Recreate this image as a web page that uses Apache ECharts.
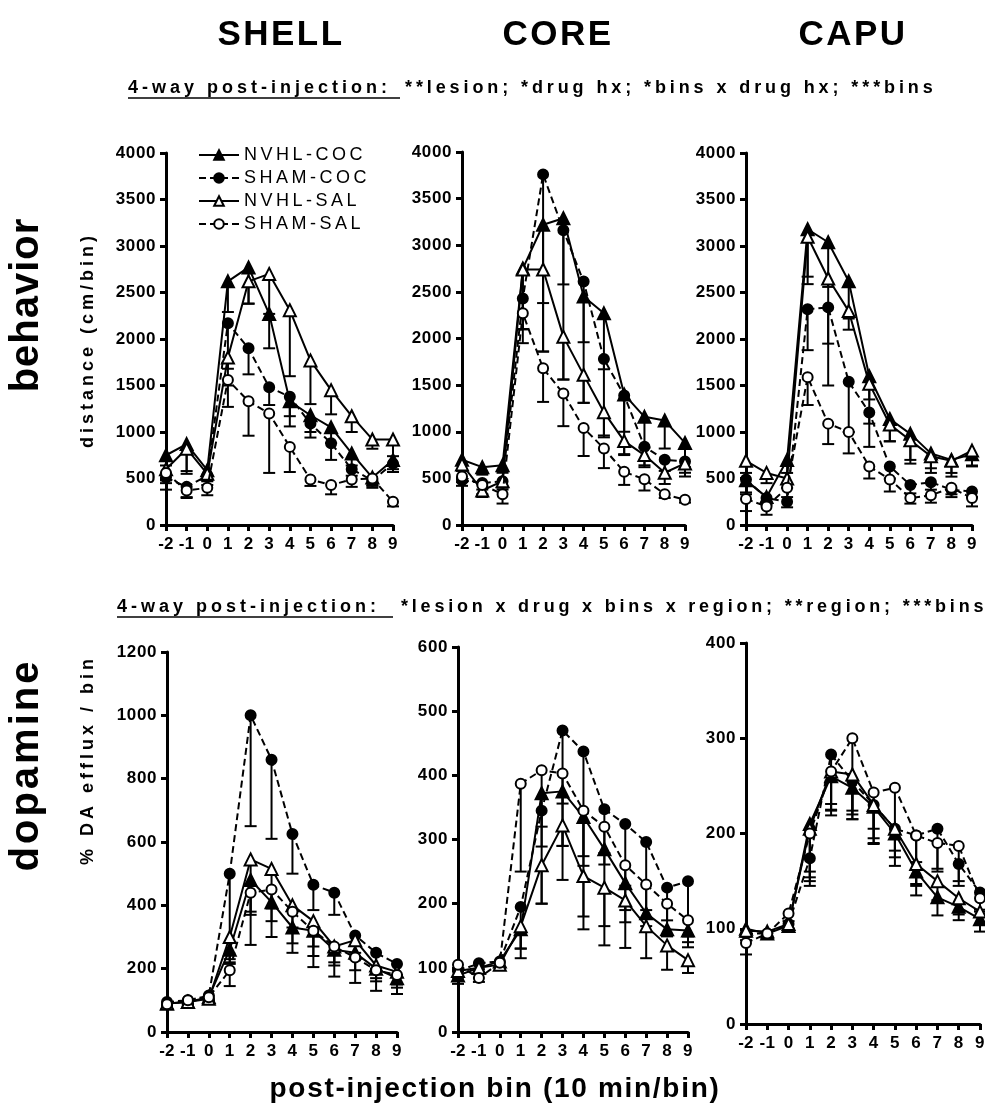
<!DOCTYPE html>
<html><head><meta charset="utf-8">
<script src="https://cdn.jsdelivr.net/npm/echarts@6/dist/echarts.min.js"></script>
<style>html,body{margin:0;padding:0;background:#fff}#c{width:985px;height:1119px}</style>
</head><body><div id="c"></div>
<script>
// ---- data ----
const bins = [-2, -1, 0, 1, 2, 3, 4, 5, 6, 7, 8, 9];
const seriesNames = ['NVHL-COC', 'SHAM-COC', 'NVHL-SAL', 'SHAM-SAL'];
const regions = ['SHELL', 'CORE', 'CAPU'];

// behavior: distance (cm/bin); "Lo" = lower end of the error bar
const shellBeh_nvhlCoc = [750, 870, 590, 2620, 2770, 2270, 1330, 1180, 1050, 770, 510, 700];
const shellBeh_nvhlCocLo = [640, 550, 480, 2290, 2380, 1900, 1060, 1000, 880, 640, 430, 600];
const shellBeh_shamCoc = [510, 410, 530, 2170, 1900, 1480, 1380, 1090, 880, 600, 480, 660];
const shellBeh_shamCocLo = [380, 300, 430, 1680, 1620, 1290, 1170, 940, 700, 530, 400, 570];
const shellBeh_nvhlSal = [600, 820, 550, 1800, 2620, 2700, 2310, 1770, 1450, 1170, 920, 920];
const shellBeh_nvhlSalLo = [480, 580, 470, 1500, 2380, 2270, 1600, 1300, 1190, 1000, 820, 740];
const shellBeh_shamSal = [560, 370, 400, 1560, 1330, 1200, 840, 490, 430, 490, 500, 250];
const shellBeh_shamSalLo = [450, 290, 320, 1270, 960, 560, 570, 420, 330, 410, 420, 200];

const coreBeh_nvhlCoc = [700, 620, 640, 2750, 3220, 3290, 2450, 2270, 1400, 1160, 1120, 880];
const coreBeh_nvhlCocLo = [600, 540, 560, 2100, 2380, 2580, 1960, 1670, 1000, 830, 820, 620];
const coreBeh_shamCoc = [480, 450, 470, 2430, 3760, 3160, 2610, 1780, 1390, 840, 700, 680];
const coreBeh_shamCocLo = [420, 380, 400, 1950, 1860, 1560, 1310, 960, 760, 640, 580, 520];
const coreBeh_nvhlSal = [650, 370, 470, 2740, 2740, 2020, 1610, 1210, 900, 750, 560, 660];
const coreBeh_nvhlSalLo = [580, 300, 380, 2100, 1860, 1560, 1310, 940, 750, 620, 440, 560];
const coreBeh_shamSal = [520, 430, 330, 2270, 1680, 1410, 1040, 820, 570, 490, 330, 270];
const coreBeh_shamSalLo = [460, 330, 230, 2100, 1320, 1060, 740, 610, 430, 370, 290, 240];

const capuBeh_nvhlCoc = [480, 300, 700, 3180, 3040, 2620, 1600, 1140, 980, 770, 700, 760];
const capuBeh_nvhlCocLo = [350, 240, 560, 2670, 2560, 2220, 1350, 900, 700, 560, 520, 630];
const capuBeh_shamCoc = [490, 290, 250, 2320, 2340, 1540, 1210, 630, 430, 460, 380, 360];
const capuBeh_shamCocLo = [330, 220, 190, 1880, 1500, 1000, 840, 500, 340, 380, 300, 300];
const capuBeh_nvhlSal = [690, 560, 500, 3100, 2650, 2300, 1520, 1080, 910, 740, 690, 800];
const capuBeh_nvhlSalLo = [560, 450, 400, 2590, 1950, 2100, 1090, 900, 660, 610, 560, 640];
const capuBeh_shamSal = [280, 200, 400, 1590, 1090, 1000, 630, 490, 290, 320, 400, 290];
const capuBeh_shamSalLo = [150, 110, 300, 1290, 870, 770, 500, 360, 230, 240, 330, 200];

// dopamine: % DA efflux / bin
const shellDa_nvhlCoc = [90, 95, 110, 260, 480, 410, 330, 320, 260, 250, 200, 170];
const shellDa_nvhlCocLo = [80, 85, 100, 220, 370, 300, 280, 240, 210, 195, 160, 140];
const shellDa_shamCoc = [95, 100, 115, 500, 1000, 860, 625, 465, 440, 305, 250, 215];
const shellDa_shamCocLo = [85, 90, 105, 215, 650, 610, 500, 385, 370, 250, 200, 180];
const shellDa_nvhlSal = [90, 95, 105, 300, 545, 515, 400, 350, 270, 290, 210, 190];
const shellDa_nvhlSalLo = [80, 85, 95, 230, 380, 390, 330, 270, 220, 230, 170, 150];
const shellDa_shamSal = [88, 100, 110, 195, 440, 450, 380, 320, 270, 235, 195, 180];
const shellDa_shamSalLo = [80, 90, 100, 145, 275, 350, 250, 205, 175, 155, 130, 120];

const coreDa_nvhlCoc = [88, 100, 110, 160, 372, 375, 335, 285, 232, 185, 160, 158];
const coreDa_nvhlCocLo = [75, 92, 100, 115, 320, 290, 274, 261, 171, 165, 149, 132];
const coreDa_shamCoc = [95, 107, 110, 195, 345, 470, 437, 347, 324, 296, 225, 235];
const coreDa_shamCocLo = [85, 98, 100, 130, 200, 290, 180, 165, 228, 178, 174, 149];
const coreDa_nvhlSal = [95, 100, 105, 165, 260, 322, 243, 225, 205, 165, 135, 112];
const coreDa_nvhlSalLo = [85, 92, 97, 130, 200, 237, 160, 135, 131, 115, 97, 92];
const coreDa_shamSal = [105, 84, 108, 387, 408, 403, 345, 320, 260, 230, 200, 174];
const coreDa_shamSalLo = [95, 78, 100, 250, 289, 356, 259, 279, 190, 190, 150, 140];

const capuDa_nvhlCoc = [100, 95, 103, 210, 260, 248, 228, 200, 160, 133, 123, 110];
const capuDa_nvhlCocLo = [92, 90, 98, 154, 219, 215, 205, 182, 135, 114, 109, 97];
const capuDa_shamCoc = [95, 95, 105, 174, 283, 255, 230, 205, 198, 205, 168, 138];
const capuDa_shamCocLo = [88, 90, 100, 145, 231, 224, 189, 166, 147, 163, 145, 120];
const capuDa_nvhlSal = [98, 97, 105, 205, 265, 262, 230, 205, 168, 150, 132, 118];
const capuDa_nvhlSalLo = [92, 92, 100, 160, 225, 220, 195, 175, 145, 130, 115, 105];
const capuDa_shamSal = [85, 95, 116, 200, 265, 300, 243, 248, 198, 190, 187, 132];
const capuDa_shamSalLo = [73, 90, 108, 150, 224, 215, 190, 200, 170, 160, 150, 118];

const yMax = [4000, 4000, 4000, 1200, 600, 400];
const yStep = [500, 500, 500, 200, 100, 100];

const panels = [
  [[shellBeh_nvhlCoc, shellBeh_nvhlCocLo], [shellBeh_shamCoc, shellBeh_shamCocLo], [shellBeh_nvhlSal, shellBeh_nvhlSalLo], [shellBeh_shamSal, shellBeh_shamSalLo]],
  [[coreBeh_nvhlCoc, coreBeh_nvhlCocLo], [coreBeh_shamCoc, coreBeh_shamCocLo], [coreBeh_nvhlSal, coreBeh_nvhlSalLo], [coreBeh_shamSal, coreBeh_shamSalLo]],
  [[capuBeh_nvhlCoc, capuBeh_nvhlCocLo], [capuBeh_shamCoc, capuBeh_shamCocLo], [capuBeh_nvhlSal, capuBeh_nvhlSalLo], [capuBeh_shamSal, capuBeh_shamSalLo]],
  [[shellDa_nvhlCoc, shellDa_nvhlCocLo], [shellDa_shamCoc, shellDa_shamCocLo], [shellDa_nvhlSal, shellDa_nvhlSalLo], [shellDa_shamSal, shellDa_shamSalLo]],
  [[coreDa_nvhlCoc, coreDa_nvhlCocLo], [coreDa_shamCoc, coreDa_shamCocLo], [coreDa_nvhlSal, coreDa_nvhlSalLo], [coreDa_shamSal, coreDa_shamSalLo]],
  [[capuDa_nvhlCoc, capuDa_nvhlCocLo], [capuDa_shamCoc, capuDa_shamCocLo], [capuDa_nvhlSal, capuDa_nvhlSalLo], [capuDa_shamSal, capuDa_shamSalLo]]
];

// ---- letter tracking for text (encoded via a dummy font family "trkNN" = NN/10 px) ----
(function () {
  const P = CanvasRenderingContext2D.prototype;
  const f = P.fillText;
  P.fillText = function () {
    const m = /trk(\d+)/.exec(this.font);
    try { this.letterSpacing = m ? (m[1] / 10) + 'px' : '0px'; } catch (e) {}
    return f.apply(this, arguments);
  };
})();
function fam(t) { return '"Liberation Sans", trk' + Math.round(t * 10) + ', Arial, sans-serif'; }

// ---- layout ----
const grids = [
  { left: 166, top: 153, width: 227, height: 372 },
  { left: 462, top: 152, width: 223, height: 373 },
  { left: 746, top: 153, width: 226, height: 372 },
  { left: 167, top: 652, width: 230, height: 380 },
  { left: 458, top: 647, width: 230, height: 385 },
  { left: 746, top: 643, width: 234, height: 381 }
];

const styles = [
  { symbol: 'triangle', size: 12, fill: '#000', dash: 'solid' },
  { symbol: 'circle', size: 10, fill: '#000', dash: [7, 4] },
  { symbol: 'triangle', size: 12, fill: '#fff', dash: 'solid' },
  { symbol: 'circle', size: 10, fill: '#fff', dash: [7, 4] }
];

const axisCommon = {
  axisLine: { show: true, onZero: false, lineStyle: { color: '#000', width: 3 } },
  axisTick: { show: true, inside: false, length: 6, lineStyle: { color: '#000', width: 3 } },
  splitLine: { show: false },
  axisLabel: { color: '#000', fontWeight: 'bold', fontSize: 17, fontFamily: fam(0.6), formatter: v => String(v) }
};

const xAxes = [], yAxes = [], series = [];
grids.forEach((g, i) => {
  xAxes.push(Object.assign({}, axisCommon, {
    type: 'value', gridIndex: i, min: -2, max: 9, interval: 1,
    axisLabel: Object.assign({}, axisCommon.axisLabel, { margin: 11, fontSize: 17, fontFamily: fam(0.3), showMinLabel: true, showMaxLabel: true })
  }));
  yAxes.push(Object.assign({}, axisCommon, {
    type: 'value', gridIndex: i, min: 0, max: yMax[i], interval: yStep[i],
    axisLabel: Object.assign({}, axisCommon.axisLabel, { margin: 10 })
  }));
  panels[i].forEach((pair, k) => {
    const vals = pair[0], lo = pair[1];
    series.push({
      type: 'custom', name: seriesNames[k] + ' err', xAxisIndex: i, yAxisIndex: i, z: 1,
      silent: true, legendHoverLink: false,
      encode: { x: 0, y: [1, 2] },
      data: bins.map((b, j) => [b, vals[j], lo[j]]),
      renderItem: function (params, api) {
        const x = api.value(0), y = api.value(1), l = api.value(2);
        const p1 = api.coord([x, y]), p2 = api.coord([x, l]);
        return { type: 'group', children: [
          { type: 'line', shape: { x1: p1[0], y1: p1[1], x2: p2[0], y2: p2[1] }, style: { stroke: '#000', lineWidth: 2 } },
          { type: 'line', shape: { x1: p2[0] - 6, y1: p2[1], x2: p2[0] + 6, y2: p2[1] }, style: { stroke: '#000', lineWidth: 2 } }
        ] };
      }
    });
  });
  panels[i].forEach((pair, k) => {
    const st = styles[k];
    series.push({
      type: 'line', name: seriesNames[k], xAxisIndex: i, yAxisIndex: i, z: 3 + k,
      symbol: st.symbol, symbolSize: st.size, showAllSymbol: true,
      lineStyle: { color: '#000', width: 2, type: st.dash },
      itemStyle: { color: st.fill, borderColor: '#000', borderWidth: 2 },
      emphasis: { disabled: true },
      data: bins.map((b, j) => [b, pair[0][j]])
    });
  });
});

function txt(text, x, y, size, trk, opts) {
  return Object.assign({
    type: 'text', x: x, y: y, silent: true,
    style: Object.assign({ text: text, fill: '#000', fontSize: size, fontWeight: 'bold', fontFamily: fam(trk), align: 'center', verticalAlign: 'middle' }, (opts && opts.style) || {})
  }, (opts && opts.el) || {});
}

const graphics = [
  txt(regions[0], 281, 35, 35, 2.5),
  txt(regions[1], 558, 35, 35, 2.5),
  txt(regions[2], 853, 35, 35, 2.5),
  txt('4-way post-injection:', 128, 88, 18, 4, { style: { align: 'left' } }),
  txt('**lesion; *drug hx; *bins x drug hx; ***bins', 405, 88, 18, 3.9, { style: { align: 'left' } }),
  { type: 'line', silent: true, shape: { x1: 128, y1: 98, x2: 400, y2: 98 }, style: { stroke: '#000', lineWidth: 1.5 } },
  txt('4-way post-injection:', 117, 607, 18, 4, { style: { align: 'left' } }),
  txt('*lesion x drug x bins x region; **region; ***bins', 401, 607, 18, 3.75, { style: { align: 'left' } }),
  { type: 'line', silent: true, shape: { x1: 117, y1: 617, x2: 393, y2: 617 }, style: { stroke: '#000', lineWidth: 1.5 } },
  txt('behavior', 27, 305, 40, 1, { el: { rotation: Math.PI / 2 } }),
  txt('dopamine', 27, 765, 40, 3, { el: { rotation: Math.PI / 2 } }),
  txt('distance (cm/bin)', 88, 340, 18, 4, { el: { rotation: Math.PI / 2 } }),
  txt('% DA efflux / bin', 88, 760, 18, 4, { el: { rotation: Math.PI / 2 } }),
  txt('post-injection bin (10 min/bin)', 495, 1089, 28, 1.7)
];

const chart = echarts.init(document.getElementById('c'), null, { renderer: 'canvas' });
chart.setOption({
  backgroundColor: '#fff',
  animation: false,
  grid: grids.map(g => Object.assign({ containLabel: false, outerBoundsMode: 'none' }, g)),
  xAxis: xAxes,
  yAxis: yAxes,
  legend: {
    data: seriesNames, orient: 'vertical', left: 193, top: 141,
    itemWidth: 40, itemHeight: 12, itemGap: 5, selectedMode: false,
    textStyle: { color: '#000', fontSize: 18, fontFamily: fam(3.5), lineHeight: 17 }
  },
  series: series,
  graphic: graphics
});
</script>
</body></html>
